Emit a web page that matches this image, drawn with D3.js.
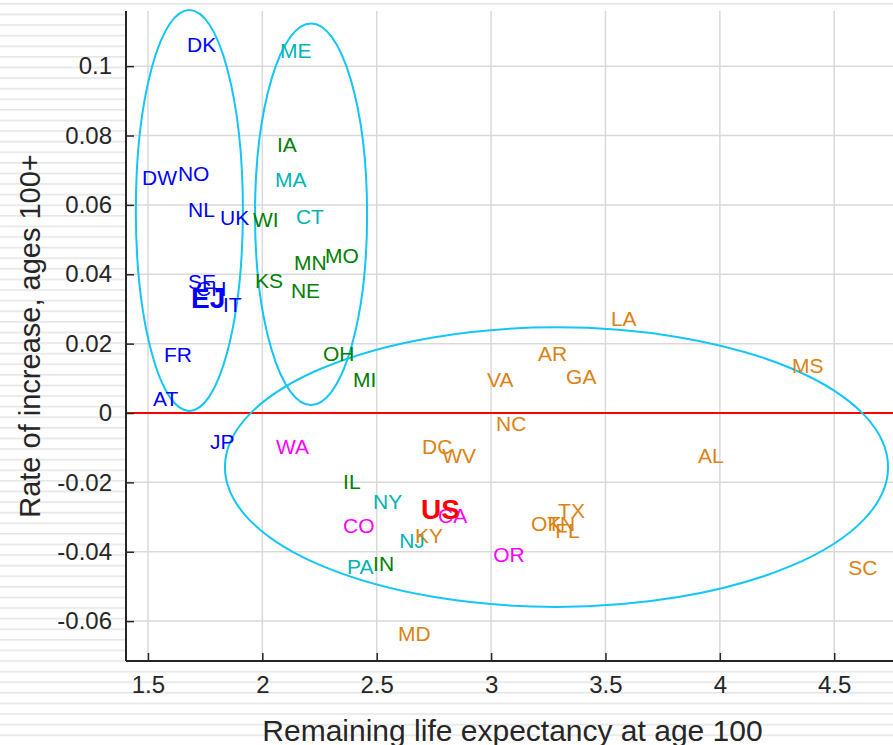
<!DOCTYPE html>
<html>
<head>
<meta charset="utf-8">
<script src="https://cdn.jsdelivr.net/npm/d3@7"></script>
<style>
  html, body { margin: 0; padding: 0; background: #fff; }
  svg { display: block; }
  text { font-family: "Liberation Sans", Arial, Helvetica, sans-serif; }
</style>
</head>
<body>
<svg id="chart" width="893" height="745"></svg>
<script>
// Region codes, plotted as text labels
const labels = ["DK","DW","NO","NL","UK","SE","CH","EJ","IT","FR","AT","JP",
  "IA","WI","KS","MN","MO","NE","OH","MI","IL","IN",
  "ME","MA","CT","NY","NJ","PA",
  "WA","CO","CA","OR",
  "LA","AR","GA","VA","NC","MS","AL","SC","DC","WV","KY","MD","TX","OK","TN","FL",
  "US"];
// Remaining life expectancy at age 100
const lifeExp = [1.671,1.474,1.631,1.675,1.815,1.675,1.710,1.688,1.828,1.570,1.522,1.771,
  2.064,1.959,1.968,2.138,2.274,2.125,2.265,2.396,2.353,2.484,
  2.077,2.055,2.147,2.484,2.598,2.370,
  2.060,2.353,2.768,3.009,
  3.524,3.205,3.328,2.982,3.022,4.316,3.905,4.561,2.698,2.786,2.667,2.593,3.293,3.175,3.245,3.280,
  2.694];
// Rate of increase, ages 100+
const rate = [0.1063,0.0680,0.0692,0.0588,0.0565,0.0378,0.0360,0.0331,0.0314,0.0170,0.0043,-0.0081,
  0.0774,0.0558,0.0382,0.0435,0.0455,0.0354,0.0173,0.0098,-0.0196,-0.0434,
  0.1046,0.0673,0.0566,-0.0254,-0.0366,-0.0442,
  -0.0095,-0.0323,-0.0294,-0.0409,
  0.0274,0.0173,0.0104,0.0097,-0.0029,0.0138,-0.0121,-0.0444,-0.0095,-0.0121,-0.0352,-0.0636,-0.0280,-0.0318,-0.0317,-0.0340,
  -0.0277];
// Group of each region: 0 country, 1 midwest, 2 northeast, 3 west, 4 south, 5 summary
const group = [0,0,0,0,0,0,0,0,0,0,0,0,
  1,1,1,1,1,1,1,1,1,1,
  2,2,2,2,2,2,
  3,3,3,3,
  4,4,4,4,4,4,4,4,4,4,4,4,4,4,4,4,
  5];
const groupColors = ["#0000ff","#008000","#00b4b4","#ff00ff","#dc8214","#ff0000"];
const boldLabels = ["EJ","US"];

// Cluster ellipses: centre and semi-axes in data units
const ellCx = [1.681, 2.213, 3.286];
const ellCy = [0.0584, 0.0573, -0.0156];
const ellRx = [0.234, 0.245, 1.4495];
const ellRy = [0.0578, 0.0550, 0.0403];

const xTicks = [1.5, 2, 2.5, 3, 3.5, 4, 4.5];
const yTicks = [-0.06, -0.04, -0.02, 0, 0.02, 0.04, 0.06, 0.08, 0.1];
const xLim = [1.404, 4.757];
const yLim = [-0.0715, 0.1159];

const W = 893, H = 745;
const plot = { left: 126, right: 893, top: 11, bottom: 661 };

const svg = d3.select("#chart");

// Faint striped page background
const defs = svg.append("defs");
const pat = defs.append("pattern").attr("id", "stripes")
  .attr("patternUnits", "userSpaceOnUse").attr("width", 10).attr("height", 10.6)
  .attr("y", 3);
pat.append("rect").attr("width", 10).attr("height", 10.6).attr("fill", "#ffffff");
pat.append("rect").attr("y", 0).attr("width", 10).attr("height", 1.6).attr("fill", "#e6e6e6");
svg.append("rect").attr("width", W).attr("height", H).attr("fill", "url(#stripes)");

const x = d3.scaleLinear().domain(xLim).range([plot.left, plot.right]);
const y = d3.scaleLinear().domain(yLim).range([plot.bottom, plot.top]);

// Plot area
svg.append("rect").attr("x", plot.left).attr("y", plot.top)
  .attr("width", plot.right - plot.left).attr("height", plot.bottom - plot.top)
  .attr("fill", "#ffffff");

// Grid
const grid = svg.append("g").attr("stroke", "#d9d9d9").attr("stroke-width", 1.5);
grid.selectAll("line.gx").data(xTicks).join("line")
  .attr("x1", d => x(d)).attr("x2", d => x(d))
  .attr("y1", plot.top).attr("y2", plot.bottom);
grid.selectAll("line.gy").data(yTicks).join("line")
  .attr("x1", plot.left).attr("x2", plot.right)
  .attr("y1", d => y(d)).attr("y2", d => y(d));

// Zero reference line
svg.append("line").attr("x1", plot.left).attr("x2", plot.right)
  .attr("y1", y(0)).attr("y2", y(0))
  .attr("stroke", "#ff0000").attr("stroke-width", 2);

// Cluster ellipses
svg.append("g").selectAll("ellipse").data(ellCx).join("ellipse")
  .attr("cx", (d, i) => x(d))
  .attr("cy", (d, i) => y(ellCy[i]))
  .attr("rx", (d, i) => x(d + ellRx[i]) - x(d))
  .attr("ry", (d, i) => y(ellCy[i] - ellRy[i]) - y(ellCy[i]))
  .attr("fill", "none").attr("stroke", "#14c6f6").attr("stroke-width", 2);

// Axes with inward ticks
const xAxis = d3.axisBottom(x).tickValues(xTicks).tickSize(-8).tickPadding(15)
  .tickFormat(d => String(d));
const yAxis = d3.axisLeft(y).tickValues(yTicks).tickSize(-8).tickPadding(14)
  .tickFormat(d => String(d));

const gx = svg.append("g").attr("transform", `translate(0,${plot.bottom})`).call(xAxis);
const gy = svg.append("g").attr("transform", `translate(${plot.left},0)`).call(yAxis);
[gx, gy].forEach(g => {
  g.select(".domain").attr("stroke", "#262626").attr("stroke-width", 2);
  g.selectAll(".tick line").attr("stroke", "#262626").attr("stroke-width", 1.5);
  g.selectAll(".tick text").attr("fill", "#262626").attr("font-size", 24)
    .attr("font-family", "'Liberation Sans', Arial, sans-serif");
});
gx.select(".domain").attr("d", `M${plot.left},0H${plot.right}`);
gy.select(".domain").attr("d", `M0,${plot.top}V${plot.bottom}`);

// Axis titles
svg.append("text").attr("x", (plot.left + plot.right) / 2 + 3).attr("y", 741)
  .attr("text-anchor", "middle").attr("font-size", 30).attr("fill", "#262626")
  .text("Remaining life expectancy at age 100");
svg.append("text")
  .attr("transform", `translate(40,${(plot.top + plot.bottom) / 2}) rotate(-90)`)
  .attr("text-anchor", "middle").attr("font-size", 29).attr("fill", "#262626")
  .text("Rate of increase, ages 100+");

// Region labels
svg.append("g").selectAll("text").data(labels).join("text")
  .attr("x", (d, i) => x(lifeExp[i]))
  .attr("y", (d, i) => y(rate[i]))
  .attr("dy", "0.36em")
  .attr("font-size", d => boldLabels.includes(d) ? 28 : 21)
  .attr("font-weight", d => boldLabels.includes(d) ? "bold" : "normal")
  .attr("fill", (d, i) => groupColors[group[i]])
  .text(d => d);
</script>
</body>
</html>
